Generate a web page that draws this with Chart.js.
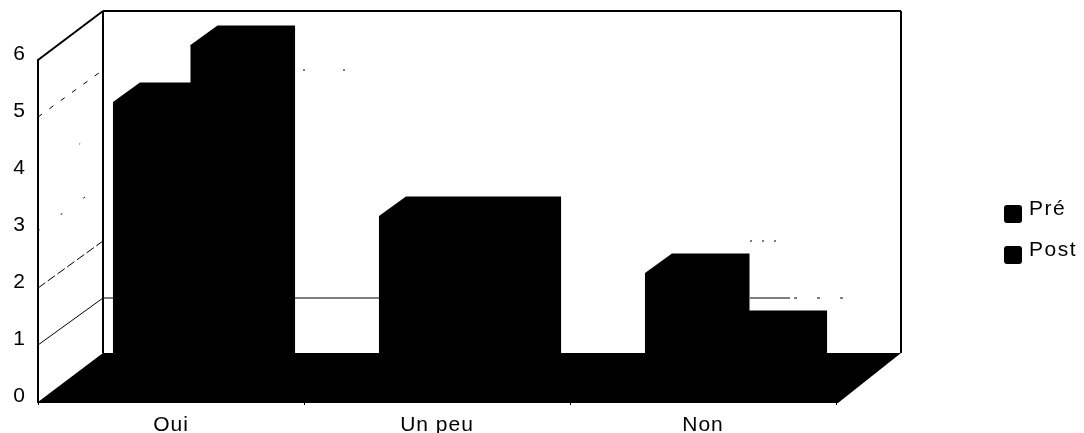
<!DOCTYPE html>
<html>
<head>
<meta charset="utf-8">
<title>Pré / Post</title>
<script src="https://cdn.jsdelivr.net/npm/chart.js@4"></script>
<style>
    html, body { margin: 0; padding: 0; background: #fff; overflow: hidden; }
    canvas { display: block; }
</style>
</head>
<body>
<canvas id="chart" width="1084" height="433"></canvas>
<script>
"use strict"

const categories = ["Oui", "Un peu", "Non"];
const preValues = [5, 3, 2];
const postValues = [6, 3, 1];
const seriesNames = ["Pré", "Post"];

// the walls sit behind the axes, the bars stand part way along the floor
const wallDx = 65;
const wallDy = -49;
const barDx = 27;
const barDy = -19.5;
const barShiftX = 19.5;
const barShiftY = -15;

// the scan lost most of the gridlines, so each one gets its own broken look
const sideDashes = { 1: [], 2: [9, 3], 3: [2, 26], 4: [1, 50], 5: [5, 9] };
const backDashes = {
    1: [277, 370, 40, 4, 3, 20, 3, 20, 3, 300],
    2: [1, 646, 2, 10, 2, 10, 2, 400],
    3: [1, 900],
    4: [1, 900],
    5: [1, 199, 2, 38, 2, 900],
};

function drawLine(ctx, x1, y1, x2, y2, width, dash) {
    ctx.save();
    ctx.strokeStyle = "#000";
    ctx.lineWidth = width;
    ctx.setLineDash(dash || []);
    ctx.beginPath();
    ctx.moveTo(x1, y1);
    ctx.lineTo(x2, y2);
    ctx.stroke();
    ctx.restore();
}

function fillShape(ctx, points) {
    ctx.fillStyle = "#000";
    ctx.beginPath();
    ctx.moveTo(points[0][0], points[0][1]);
    for (let i = 1; i < points.length; i++) {
        ctx.lineTo(points[i][0], points[i][1]);
    }
    ctx.closePath();
    ctx.fill();
}

function drawWalls(chart) {
    const ctx = chart.ctx;
    const area = chart.chartArea;
    const y = chart.scales.y;
    const backLeft = area.left + wallDx;
    const backRight = area.right + wallDx;

    for (let value = 1; value <= 5; value++) {
        const py = y.getPixelForValue(value);
        drawLine(ctx, area.left, py, backLeft, py + wallDy + 2, 1, sideDashes[value]);
        drawLine(ctx, backLeft, py + wallDy + 2, backRight, py + wallDy + 2, 1, backDashes[value]);
    }

    drawLine(ctx, area.left, area.top, backLeft, area.top + wallDy, 2);
    drawLine(ctx, backLeft, area.top + wallDy, backRight, area.top + wallDy, 2);
    drawLine(ctx, backLeft, area.top + wallDy, backLeft, area.bottom + wallDy, 2);
    drawLine(ctx, backRight, area.top + wallDy, backRight, area.bottom + wallDy, 2);

    fillShape(ctx, [
        [area.left, area.bottom],
        [backLeft, area.bottom + wallDy],
        [backRight, area.bottom + wallDy],
        [area.right + 2, area.bottom + 1],
    ]);
}

function drawBarDepth(chart) {
    const ctx = chart.ctx;
    chart.data.datasets.forEach(function (dataset, index) {
        chart.getDatasetMeta(index).data.forEach(function (bar) {
            const left = bar.x - bar.width / 2;
            const right = bar.x + bar.width / 2;
            fillShape(ctx, [
                [left, bar.y],
                [left + barDx, bar.y + barDy],
                [right + barDx, bar.y + barDy],
                [right + barDx, bar.base + barDy],
                [right, bar.base],
            ]);
        });
    });
}

function drawLegend(chart) {
    const ctx = chart.ctx;
    const boxes = [205, 246];
    ctx.save();
    ctx.font = "21px 'Liberation Sans'";
    ctx.letterSpacing = "1.5px";
    ctx.textBaseline = "alphabetic";
    for (let i = 0; i < seriesNames.length; i++) {
        ctx.fillStyle = "#000";
        ctx.beginPath();
        ctx.roundRect(1004, boxes[i], 18, 18, 3);
        ctx.fill();
        ctx.fillText(seriesNames[i], 1029, boxes[i] + 10);
    }
    ctx.restore();
}

const scan3d = {
    id: "scan3d",
    beforeDraw(chart) {
        chart.ctx.letterSpacing = "1px";
    },
    beforeDatasetsDraw(chart) {
        drawWalls(chart);
        chart.ctx.save();
        chart.ctx.translate(barShiftX, barShiftY);
    },
    afterDatasetsDraw(chart) {
        drawBarDepth(chart);
        chart.ctx.restore();
    },
    afterDraw(chart) {
        drawLegend(chart);
    },
};

const config = {
    type: "bar",
    data: {
        labels: categories,
        datasets: [
            { label: seriesNames[0], data: preValues, backgroundColor: "#000", clip: false },
            { label: seriesNames[1], data: postValues, backgroundColor: "#000", clip: false },
        ],
    },
    options: {
        responsive: false,
        animation: false,
        categoryPercentage: 0.583,
        barPercentage: 1,
        layout: { padding: { top: 60, right: 248, bottom: 0, left: 0 } },
        plugins: {
            legend: { display: false },
            tooltip: { enabled: false },
        },
        scales: {
            x: {
                afterFit(scale) { scale.height = 31; },
                border: { display: true, color: "#000", width: 2 },
                grid: { display: true, drawOnChartArea: false, color: "#000", tickLength: 3 },
                ticks: {
                    color: "#000",
                    padding: 8,
                    maxRotation: 0,
                    font: { family: "'Liberation Sans'", size: 21 },
                },
            },
            y: {
                min: 0,
                max: 6,
                afterFit(scale) { scale.width = 38; },
                border: { display: true, color: "#000", width: 2 },
                grid: { display: false },
                ticks: {
                    stepSize: 1,
                    color: "#000",
                    padding: 4,
                    labelOffset: -6,
                    font: { family: "'Liberation Sans'", size: 21 },
                },
            },
        },
    },
    plugins: [scan3d],
};

const myChart = new Chart(document.getElementById("chart"), config);
</script>
</body>
</html>
